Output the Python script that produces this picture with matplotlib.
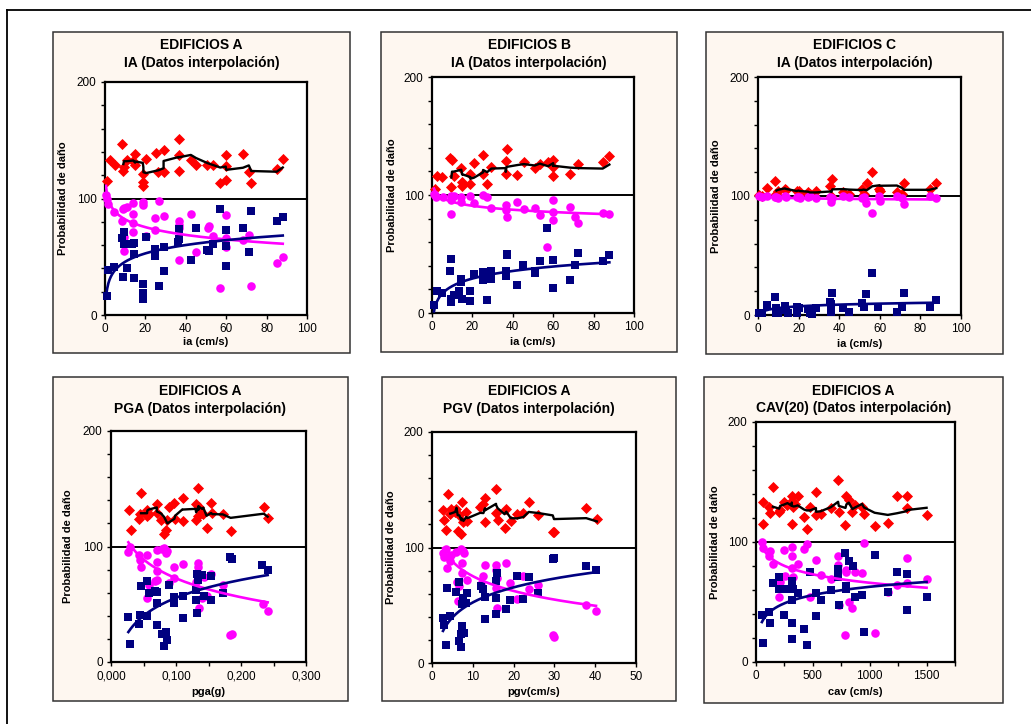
import numpy as np
import matplotlib
matplotlib.use('Agg')
import matplotlib.pyplot as plt
from matplotlib.patches import Rectangle
from matplotlib.lines import Line2D
from matplotlib.ticker import MultipleLocator

plt.rcParams['font.family'] = ['Liberation Sans', 'DejaVu Sans']

# ---------------- DATA ----------------
# Panel 1: EDIFICIOS A, IA
a_ia_red_x = [0.8,2.5,5,8.3,9.1,9.4,10.7,14,14.9,14.9,18.7,19,19,20.3,25.3,26.4,29,29,36.4,36.4,36.7,42.5,45,50.7,53.4,57,59.8,59.8,60,68.3,71.2,72.4,85,88]
a_ia_red_y = [115,133,129,147,124,127,133,132,138,129,121,114,111,134,139,123,123,142,151,137,124,133,129,129,129,113,137,128,116,138,123,113,125,134]
a_ia_mag_x = [0.5,0.8,1.5,4.6,8.3,9.1,9.4,9.4,9.4,10.7,14,14,14,14,19,19,20.3,24.8,24.8,26.8,29,36.4,36.4,36.4,36.4,42.5,45,51,51.7,53.4,57,59.8,59.8,59.8,68.3,71.2,72.4,85,88]
a_ia_mag_y = [103,100,95,88,81,91,92,67,55,93,96,87,79,71,97,94,68,83,73,98,85,81,77,75,47,87,54,75,76,68,23,86,66,58,64,69,25,45,50]
a_ia_blue_x = [0.8,1.6,4.6,9.1,8.3,9.4,9.4,10.7,13.5,14.2,14.5,14.5,18.7,19,19,20.3,24.8,24.8,26.8,29,29,36,36.4,36.7,42.5,45,50.7,51.7,53.4,56.7,59.8,59.8,59.8,68.3,71.2,72.4,85,88]
a_ia_blue_y = [16,39,41,33,66,71,61,40,61,62,32,52,27,19,14,67,57,51,25,58,38,63,65,74,47,75,56,55,61,91,73,59,42,75,54,89,81,84]

# Panel 2: EDIFICIOS B, IA
b_ia_red_x = [1.3,2.5,5.1,8.8,9.6,9.9,10.7,14.5,14.9,14.9,19,19,20.7,25.3,25.3,27.3,29.4,36.9,36.5,36.5,42.3,45.5,50.9,53.4,57.5,60,60,60,68.3,72.4,84.5,87.8]
b_ia_red_y = [105,116,115,131,107,130,116,123,111,108,118,109,127,134,118,109,124,139,129,118,117,128,123,126,128,130,116,124,118,126,128,133]
b_ia_mag_x = [1,1.3,2.1,5.5,9.6,9.6,9.6,10.7,14.5,14.5,19,20.7,25.3,27,29.4,36.5,36.5,36.9,42.3,45.5,50.9,53.4,57,60,60,60,68.3,71,72.4,84.5,87.8]
b_ia_mag_y = [101,100,98.6,98.6,99,96,84,99,98.6,94,99,93.5,100,98.6,89,91.5,87,81,94,88,89,83,56,96,86,79,90,81,76,85,83.6]
b_ia_blue_x = [1,2.5,5.1,8.8,9.3,9.6,9.6,10.7,13.2,14.5,14.5,14.9,18.7,18.7,20.7,25,25,27,29,29,36.4,36.4,36.9,36.9,42.3,45,50.9,50.9,53.4,57,59.7,59.7,68.3,71,72.4,84.5,87.8]
b_ia_blue_y = [6.5,19,17,36,9,46,12,15,19,29,26,12,19,10,33,35,28,11,36,29,36,31,50,49,23.5,40.5,36,34,44,72,45,21,28,40.5,51,44,49.5]

# Panel 3: EDIFICIOS C, IA
c_ia_red_x = [0.3,2,4.6,8.6,9.1,9.9,13.2,13.7,19,20,20.6,24.7,25.5,28.5,35.7,36.6,36.2,42,44.8,51,52,53.5,56.3,59.8,60,68.4,70.8,72,84.5,87.8]
c_ia_red_y = [101,100,107,113,102,104,106,105,104,104,102,103,102,104,108,114,100,103,102,106,102,111,120,106,104,103,102,111,106,111]
c_ia_mag_x = [0.3,2,4.6,8.6,9.1,9.9,13.2,13.7,19,20,20.6,24.7,25.5,28.5,35.7,36.2,36.6,42,44.8,51,52,53.2,56.3,59.8,60,68.4,70.8,72,84.5,87.8]
c_ia_mag_y = [100,99,100,99,99,98,100,99,99,99,98,99,100,98,99,95,98,100,99,98,99,94,85.5,100,96,100,98,93.5,100,98]
c_ia_blue_x = [0.3,2,4.6,8.6,9.1,9.1,9.9,13.2,13.7,14.8,19,19.3,20,24.7,25.5,26.4,28.5,35.7,36.2,36.6,36.2,42,44.8,51,52,53.2,56.3,59.3,68.4,70.8,72,84.5,87.8]
c_ia_blue_y = [2,1.4,8.4,15.4,5.6,1.4,2,7.6,4.2,2,6.5,2,5.6,4.8,1.4,0.8,5.6,11,9,18.8,2.8,5.6,2.8,10,6.5,17.4,35,6.5,2.8,6.5,18.2,7,13]

# Panel 4: EDIFICIOS A, PGA
a_pga_red_x = [0.0277,0.0303,0.0437,0.0447,0.0462,0.0555,0.056,0.058,0.0704,0.0704,0.077,0.0817,0.0842,0.0868,0.0894,0.0976,0.0986,0.110,0.111,0.130,0.131,0.1346,0.1346,0.136,0.140,0.142,0.147,0.154,0.156,0.172,0.184,0.235,0.241]
a_pga_red_y = [132,114,124,128,146,132,126,128,137,129,123,111,114,123,134,138,124,142,122,137,123,151,126,134,129,128,116,138,129,128,113,134,125]
a_pga_mag_x = [0.0267,0.029,0.0437,0.0447,0.0462,0.055,0.056,0.058,0.068,0.0704,0.0704,0.0704,0.0714,0.078,0.0817,0.0848,0.0868,0.0894,0.0976,0.0976,0.110,0.1336,0.1346,0.132,0.131,0.136,0.140,0.147,0.143,0.154,0.172,0.183,0.186,0.234,0.241]
a_pga_mag_y = [95,100,92.5,88,82,93,55,67,70,97,87,79,71,98,99,94.5,96,68.5,82,73,85,86,82,76,69,47,55,57.5,74,76,67,23,24,50,44]
a_pga_blue_x = [0.0267,0.029,0.0437,0.0447,0.0462,0.055,0.056,0.059,0.068,0.0704,0.0704,0.0704,0.078,0.0817,0.0842,0.0868,0.0894,0.0976,0.0976,0.110,0.111,0.130,0.131,0.132,0.132,0.1346,0.140,0.143,0.154,0.154,0.172,0.183,0.186,0.233,0.241]
a_pga_blue_y = [39,16,33,41,65.6,40,70,60,61.5,60.7,51,32,24.5,13.6,26,19,67,56,51,38,57.5,53.5,62,42.5,76,71,75,57,74.6,54,60,90.5,89,84,79.5]

# Panel 5: EDIFICIOS A, PGV
a_pgv_red_x = [2.7,2.9,3.4,3.8,4.5,4.6,5.7,6.0,6.3,6.7,7.2,7.3,7.7,8.4,8.7,11.8,12.6,13.0,13.0,15.7,15.7,16.1,17.8,18.2,19.3,20.8,22.4,23.7,26.1,29.6,29.9,37.8,40.4]
a_pgv_red_y = [132.6,124,115,146,129,133,131,133,114,128,112,139,122,131,123,135,138,143,122,151,130,124,117,133,123,129,130,139,128,113,113,134,125]
a_pgv_mag_x = [2.7,2.9,3.4,3.7,4.5,4.6,6.0,6.1,6.3,6.5,7.2,7.3,7.3,7.5,7.9,8.7,12.1,12.6,13.0,15.7,15.7,15.7,15.9,15.9,18.2,19.2,20.8,22.3,23.7,26.1,29.6,29.9,37.8,40.2]
a_pgv_mag_y = [95.5,92,99,82,88.5,93.5,96,70,54,66.6,99,87,78,97,95,72,68,75,85,85,80.5,65,48,74,87,69.5,55,75,64,67.4,24,22.6,50,45]
a_pgv_blue_x = [2.7,2.9,3.4,3.7,4.5,6.0,6.5,6.7,7.2,7.2,7.3,7.3,7.5,7.9,8.4,8.6,12.1,12.6,13.0,13.0,15.7,15.7,15.9,15.7,18.2,19.2,20.8,22.3,23.7,26.1,29.6,29.9,37.8,40.2]
a_pgv_blue_y = [39,32.7,16,65,40.5,61.6,70,19,25,14,32,51.5,56.7,26,52,61,66.6,63.7,57,38.5,56,71,77.6,42,46.6,54.4,75,55,74.7,60.8,90,91,84,80.5]

# Panel 6: EDIFICIOS A, CAV(20)
a_cav_red_x = [58,58,111,125,149,204,213,242,277,315,315,315,329,344,367,422,446,475,527,527,568,658,722,728,787,795,816,848,868,932,950,1043,1159,1241,1325,1325,1500]
a_cav_red_y = [133,115,129,124,146,125,127,133,131,134.5,138,115,129.5,132,138,121,111,129.5,142,122.5,123,128,152,125,114,138,135,125,131,129.5,123.4,113,116,138,138,128,122.5]
a_cav_mag_x = [52,58,111,125,149,204,213,248,256,315,315,315,329,367,422,446,475,527,568,658,722,722,728,787,795,795,816,848,868,932,950,1043,1159,1241,1325,1325,1500]
a_cav_mag_y = [100,95,88,92.5,82,54,67,93,71.6,96,88,78.5,71,82,94,98,54,85,72.4,69,88,81,47.4,22.3,76.6,75,49.6,45.4,75,74.4,99,24,58,64,86.4,65.5,68.8]
a_cav_blue_x = [52,58,111,125,149,204,204,256,242,315,315,315,315,329,367,422,446,475,527,527,568,658,722,722,731,787,795,795,816,853,868,932,950,1043,1159,1241,1325,1325,1500]
a_cav_blue_y = [39,16,42,32.6,65.5,71,60.7,60.7,39.5,67.7,51.5,32.6,19.5,61,57.7,27.9,14,75,57.7,38.4,51.5,60,71,77.4,47.4,90.5,63,61,84.4,80,53.8,55.7,25,89,58.5,75,73,43,54.3]

titles_1 = ['EDIFICIOS A', 'EDIFICIOS B', 'EDIFICIOS C', 'EDIFICIOS A', 'EDIFICIOS A', 'EDIFICIOS A']
titles_2 = ['IA (Datos interpolación)', 'IA (Datos interpolación)', 'IA (Datos interpolación)',
            'PGA (Datos interpolación)', 'PGV (Datos interpolación)', 'CAV(20) (Datos interpolación)']
xlabels = ['ia (cm/s)', 'ia (cm/s)', 'ia (cm/s)', 'pga(g)', 'pgv(cm/s)', 'cav (cm/s)']
ylabel = 'Probabilidad de daño'
y_ticks = [0, 100, 200]
ia_ticks = [0, 20, 40, 60, 80, 100]
ia_ticklabels = ['0', '20', '40', '60', '80', '100']
pga_ticks = [0.0, 0.1, 0.2, 0.3]
pga_ticklabels = ['0,000', '0,100', '0,200', '0,300']
pgv_ticks = [0, 10, 20, 30, 40, 50]
pgv_ticklabels = ['0', '10', '20', '30', '40', '50']
cav_ticks = [0, 500, 1000, 1500]
cav_ticklabels = ['0', '500', '1000', '1500']

# ---------------- LAYOUT ----------------
W, H = 1031, 724
fig = plt.figure(figsize=(W / 100, H / 100), dpi=100)
fig.patch.set_facecolor('white')

def fx(x):
    return x / W

def fy(y):
    return 1 - y / H

CREAM = '#FEF7F0'

panels = [
    dict(box=(53, 32, 350, 353), plot=(105, 82, 307, 315), ylab_x=63, xlab_y=342,
         data=(a_ia_red_x, a_ia_red_y, a_ia_mag_x, a_ia_mag_y, a_ia_blue_x, a_ia_blue_y),
         xlim=(0, 100), ticks=ia_ticks, tlabels=ia_ticklabels, minor=None, t1=45, t2=63),
    dict(box=(381, 32, 677, 352), plot=(432, 77, 634, 313), ylab_x=392, xlab_y=342,
         data=(b_ia_red_x, b_ia_red_y, b_ia_mag_x, b_ia_mag_y, b_ia_blue_x, b_ia_blue_y),
         xlim=(0, 100), ticks=ia_ticks, tlabels=ia_ticklabels, minor=None, t1=45, t2=63),
    dict(box=(706, 32, 1003, 354), plot=(758, 77, 961, 315), ylab_x=716, xlab_y=344,
         data=(c_ia_red_x, c_ia_red_y, c_ia_mag_x, c_ia_mag_y, c_ia_blue_x, c_ia_blue_y),
         xlim=(0, 100), ticks=ia_ticks, tlabels=ia_ticklabels, minor=None, t1=45, t2=63),
    dict(box=(53, 377, 348, 701), plot=(111, 431, 306, 662), ylab_x=68, xlab_y=692,
         data=(a_pga_red_x, a_pga_red_y, a_pga_mag_x, a_pga_mag_y, a_pga_blue_x, a_pga_blue_y),
         xlim=(0, 0.3), ticks=pga_ticks, tlabels=pga_ticklabels, minor=0.05, t1=391, t2=409),
    dict(box=(382, 377, 676, 701), plot=(432, 432, 636, 663), ylab_x=391, xlab_y=692,
         data=(a_pgv_red_x, a_pgv_red_y, a_pgv_mag_x, a_pgv_mag_y, a_pgv_blue_x, a_pgv_blue_y),
         xlim=(0, 50), ticks=pgv_ticks, tlabels=pgv_ticklabels, minor=None, t1=391, t2=409),
    dict(box=(704, 377, 1003, 703), plot=(756, 422, 955, 662), ylab_x=715, xlab_y=692,
         data=(a_cav_red_x, a_cav_red_y, a_cav_mag_x, a_cav_mag_y, a_cav_blue_x, a_cav_blue_y),
         xlim=(0, 1750), ticks=cav_ticks, tlabels=cav_ticklabels, minor=250, t1=391, t2=408),
]

# outer frame (only top and left edges fall inside the image)
fig.add_artist(Line2D([fx(7), 1.0], [fy(10), fy(10)], color='black', lw=1.3, transform=fig.transFigure))
fig.add_artist(Line2D([fx(7), fx(7)], [fy(10), 0.0], color='black', lw=1.3, transform=fig.transFigure))


def moving_avg(x, y, n=5):
    x = np.asarray(x, float)
    y = np.asarray(y, float)
    order = np.argsort(x, kind='stable')
    xs, ys = x[order], y[order]
    ma = np.convolve(ys, np.ones(n) / n, mode='valid')
    return xs[n - 1:], ma


def log_fit(x, y):
    x = np.asarray(x, float)
    y = np.asarray(y, float)
    a, b = np.polyfit(np.log(x), y, 1)
    xx = np.linspace(x.min(), x.max(), 300)
    return xx, a * np.log(xx) + b


for i, p in enumerate(panels):
    x0, y0, x1, y1 = p['box']
    fig.add_artist(Rectangle((fx(x0), fy(y1)), fx(x1) - fx(x0), fy(y0) - fy(y1),
                             transform=fig.transFigure, facecolor=CREAM,
                             edgecolor='#333333', lw=1.1, zorder=0))
    cx = (x0 + x1) / 2
    fig.text(fx(cx), fy(p['t1']), titles_1[i], ha='center', va='center',
             fontsize=10, fontweight='bold')
    fig.text(fx(cx), fy(p['t2']), titles_2[i], ha='center', va='center',
             fontsize=10, fontweight='bold')

    px0, py0, px1, py1 = p['plot']
    ax = fig.add_axes([fx(px0), fy(py1), fx(px1) - fx(px0), fy(py0) - fy(py1)])
    ax.set_facecolor('white')
    rx, ry, mx, my, bx, by = p['data']

    ax.scatter(rx, ry, marker='D', s=32, color='#FF0000', linewidths=0, zorder=3, clip_on=False)
    ax.scatter(mx, my, marker='o', s=38, color='#FF00FF', linewidths=0, zorder=3, clip_on=False)
    ax.scatter(bx, by, marker='s', s=34, color='#000080', linewidths=0, zorder=3, clip_on=False)

    xm, ym = moving_avg(rx, ry)
    ax.plot(xm, ym, color='black', lw=1.7, zorder=4)
    xl, yl = log_fit(mx, my)
    ax.plot(xl, yl, color='#FF00FF', lw=1.9, zorder=4)
    xl, yl = log_fit(bx, by)
    ax.plot(xl, yl, color='#000080', lw=1.9, zorder=4)

    ax.axhline(100, color='black', lw=1.4, zorder=2)

    ax.set_xlim(*p['xlim'])
    ax.set_ylim(0, 200)
    ax.set_yticks(y_ticks)
    ax.set_yticklabels([str(v) for v in y_ticks])
    ax.yaxis.set_minor_locator(MultipleLocator(20))
    ax.set_xticks(p['ticks'])
    ax.set_xticklabels(p['tlabels'])
    if p['minor']:
        ax.xaxis.set_minor_locator(MultipleLocator(p['minor']))
    ax.tick_params(axis='both', which='both', direction='out', length=3, width=1.0,
                   labelsize=8.5, color='black')
    ax.tick_params(axis='y', pad=3)
    ax.tick_params(axis='x', pad=3)
    for s in ax.spines.values():
        s.set_linewidth(1.6)
        s.set_color('black')
        s.set_zorder(2.5)

    fig.text(fx(p['ylab_x']), fy((py0 + py1) / 2), ylabel, rotation=90, ha='center',
             va='center', fontsize=8, fontweight='bold')
    fig.text(fx((px0 + px1) / 2), fy(p['xlab_y']), xlabels[i], ha='center', va='center',
             fontsize=8, fontweight='bold')

fig.savefig('out.png', dpi=100, facecolor='white')
